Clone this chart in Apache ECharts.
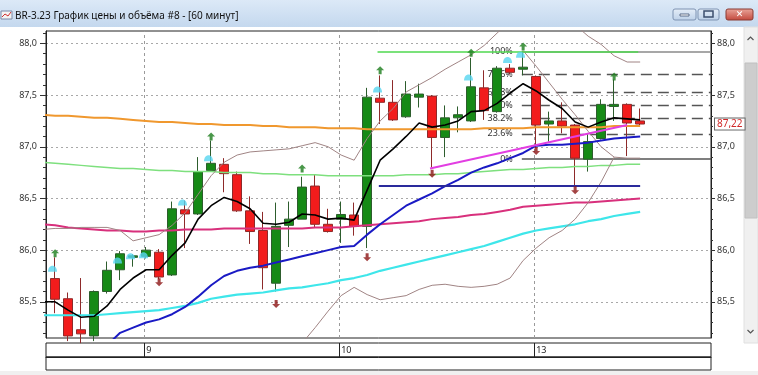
<!DOCTYPE html>
<html><head><meta charset="utf-8">
<script src="https://cdn.jsdelivr.net/npm/echarts@6/dist/echarts.min.js"></script>
<style>html,body{margin:0;padding:0;background:#fff;overflow:hidden}#c{width:758px;height:375px}</style>
</head><body><div id="c"></div>
<script>
// ---------- DATA ----------
const bars = [0,1,2,3,4,5,6,7,8,9,10,11,12,13,14,15,16,17,18,19,20,21,22,23,24,25,26,27,28,29,30,31,32,33,34,35,36,37,38,39,40,41,42,43,44,45];
const opens  = [85.725,85.53,85.23,85.17,85.60,85.81,85.93,85.94,85.98,85.76, 86.39,86.35,86.77,86.83,86.73,86.38,86.19,85.68,86.24,86.30, 86.62,86.25,86.30,86.34,86.23,87.47,87.43,87.29,87.48,87.49, 87.09,87.28,87.25,87.57,87.34,87.76,87.75,87.68,87.22,87.25, 87.21,86.88,87.08,87.39,87.41,87.25];
const closes = [85.525,85.17,85.19,85.60,85.805,85.965,85.945,86.00,85.74,86.40, 86.35,86.76,86.84,86.74,86.38,86.18,85.83,86.23,86.30,86.61, 86.25,86.18,86.345,86.23,87.48,87.43,87.26,87.51,87.51,87.09, 87.28,87.31,87.58,87.35,87.76,87.72,87.77,87.21,87.25,87.20, 86.89,87.05,87.41,87.41,87.23,87.22];
const lows   = [85.39,85.12,85.10,85.12,85.58,85.71,85.84,85.92,85.72,85.75, 86.02,86.34,86.76,86.56,86.37,86.06,85.62,85.60,86.03,86.30, 86.22,86.17,86.07,86.14,86.02,87.22,87.25,87.28,87.38,86.80, 86.90,87.14,87.24,87.26,87.33,87.70,87.69,86.99,87.05,87.13, 86.62,86.76,87.07,87.25,86.91,87.21];
const highs  = [85.93,85.59,85.73,85.61,85.89,85.99,85.96,86.03,86.01,86.47, 86.48,86.90,87.06,86.89,86.76,86.52,86.37,86.46,86.47,86.71, 86.73,86.40,86.47,86.46,87.57,87.69,87.645,87.635,87.61,87.50, 87.40,87.39,87.86,87.74,87.78,87.80,87.92,87.69,87.34,87.43, 87.22,87.13,87.46,87.65,87.42,87.37];

// indicator lines, points at bar -1 .. 45
const lineIdx = [-1,0,1,2,3,4,5,6,7,8,9,10,11,12,13,14,15,16,17,18,19,20,21,22,23,24,25,26,27,28,29,30,31,32,33,34,35,36,37,38,39,40,41,42,43,44,45];
const orangeMA = [87.31,87.30,87.30,87.29,87.28,87.28,87.27,87.26,87.25,87.24, 87.24,87.23,87.22,87.22,87.21,87.21,87.21,87.20,87.20,87.19, 87.19,87.19,87.18,87.18,87.18,87.17,87.17,87.17,87.17,87.17, 87.17,87.17,87.17,87.17,87.18,87.18,87.18,87.18,87.19,87.19, 87.19,87.19,87.19,87.19,87.20,87.20,87.20];
const greenMA  = [86.85,86.84,86.83,86.82,86.81,86.80,86.79,86.79,86.78,86.77, 86.77,86.76,86.76,86.76,86.75,86.75,86.75,86.74,86.74,86.73, 86.73,86.73,86.72,86.72,86.72,86.72,86.72,86.72,86.73,86.73, 86.73,86.74,86.74,86.75,86.76,86.77,86.78,86.78,86.79,86.80, 86.80,86.81,86.81,86.82,86.82,86.83,86.83];
const crimsonMA= [86.25,86.24,86.22,86.21,86.20,86.19,86.19,86.18,86.18,86.19, 86.19,86.20,86.20,86.20,86.21,86.21,86.21,86.21,86.21,86.21, 86.21,86.22,86.22,86.22,86.23,86.24,86.25,86.26,86.27,86.28, 86.30,86.31,86.32,86.34,86.35,86.37,86.39,86.42,86.43,86.44, 86.45,86.46,86.46,86.47,86.48,86.49,86.50];
const cyanMA   = [85.37,85.37,85.37,85.37,85.37,85.38,85.39,85.40,85.41,85.42, 85.44,85.46,85.49,85.53,85.55,85.57,85.58,85.59,85.61,85.63, 85.64,85.66,85.68,85.71,85.73,85.76,85.80,85.83,85.86,85.89, 85.92,85.95,85.98,86.01,86.04,86.08,86.12,86.16,86.19,86.21, 86.23,86.25,86.28,86.30,86.33,86.35,86.37];
const blueMA   = [null,null,null,null,null,85.08,85.20,85.25,85.30,85.33, 85.38,85.45,85.55,85.66,85.75,85.80,85.83,85.85,85.88,85.91, 85.94,85.97,86.00,86.03,86.04,86.15,86.25,86.34,86.43,86.49, 86.55,86.62,86.68,86.75,86.80,86.84,86.89,86.94,87.01,87.02, 87.02,87.03,87.04,87.06,87.08,87.09,87.10];
const blackMA  = [85.50,85.50,85.42,85.35,85.36,85.46,85.62,85.73,85.81,85.81, 85.95,86.07,86.30,86.43,86.51,86.47,86.40,86.26,86.25,86.27, 86.35,86.34,86.30,86.31,86.29,86.58,86.87,86.98,87.10,87.23, 87.19,87.21,87.25,87.34,87.35,87.42,87.52,87.61,87.54,87.45, 87.37,87.24,87.19,87.24,87.28,87.27,87.26];
const upperBand= [86.20,86.21,86.21,86.22,86.22,86.22,86.19,86.09,86.12,86.15, 86.24,86.36,86.54,86.72,86.85,86.92,86.95,86.96,86.97,86.98, 87.01,87.04,87.00,86.92,86.87,87.08,87.25,87.37,87.53,87.60, 87.67,87.75,87.82,87.89,87.98,88.10,88.22,88.28,88.30,88.28, 88.22,88.18,88.07,87.99,87.88,87.82,87.82];
const lowerBand= [null,null,null,null,null,null,null,null,null,null, null,null,null,null,null,null,null,null,null,84.95, 85.10,85.25,85.41,85.56,85.64,85.57,85.52,85.54,85.56,85.62, 85.66,85.67,85.65,85.64,85.65,85.67,85.73,85.90,86.02,86.12, 86.19,86.30,86.46,86.66,86.90,86.89,86.89];
const extraIdx = [36,37,38,39,40,41,42,43];
const extraLine = [87.93,87.78,87.62,87.46,87.31,87.15,87.00,86.90];

// signals
const upArrowIdx = [0,12,19,25,32,36,43];
const upArrowVal = [85.97,87.10,86.79,87.74,87.91,87.97,87.68];
const downArrowIdx = [8,17,24,29,37,40];
const downArrowVal = [85.69,85.48,85.93,86.74,86.96,86.58];
const cyanIdx = [0,5,6,7,10,12,25,32,35,36];
const cyanVal = [85.82,85.90,85.94,85.95,86.46,86.89,87.555,87.67,87.84,87.89];
const waveIdx = [12.1,17.1,20.2,41.2,43.2];
const waveVal = [87.40,85.34,86.86,86.46,87.78];
const waveText = ['1','2','3','2','3'];

// drawings
const fibHigh = 87.92, fibLow = 86.88, fibStartIdx = 35.9;
const fibLevels = [100, 78.6, 61.8, 50, 38.2, 23.6, 0];
const fibLabels = ['100%','78.6%','61.8%','50%','38.2%','23.6%','0%'];
const greenLevel = {from: 24.8, to: 44.85, value: 87.92};
const blueLevel = {from: 24.9, to: 45.0, value: 86.62};
const trendLine = [[28.84, 86.79],[44.0, 87.21]];

// axes
const dayLabels = ['9','10','13'];
const dayStartBar = [7,22,37];
const yMajorTicks = [85.5,86.0,86.5,87.0,87.5,88.0];
const yMinorTicks = [85.2,85.3,85.4,85.6,85.7,85.8,85.9,86.1,86.2,86.3,86.4,86.6,86.7,86.8,86.9,87.1,87.2,87.3,87.4,87.6,87.7,87.8,87.9,88.1];
const lastPrice = closes[closes.length-1];
const titleText = 'BR-3.23 График цены и объёма #8 - [60 минут]';

// ---------- CHART ----------
const X_MIN = -0.7, X_MAX = 50.45, Y_MIN = 85.15, Y_MAX = 88.12;
const FONT = 'Noto Sans';
const dayBounds = dayStartBar.map(b => b - 0.15);
const fmt1 = v => v.toFixed(1).replace('.', ',');
const pair = (xs, ys) => xs.map((x, k) => [x, ys[k]]);

const candleData = bars.map((b, k) => [b, opens[k], closes[k], lows[k], highs[k]]);

function lineSeries(name, vals, color, width, z, xs) {
  return {type: 'line', name, data: pair(xs || lineIdx, vals), showSymbol: false, symbol: 'none',
    xAxisIndex: 0, yAxisIndex: 0, z: z || 3, connectNulls: false,
    lineStyle: {color, width}, clip: true, silent: true};
}

const fibMarks = fibLevels.map((lv, k) => {
  const p = fibLow + (fibHigh - fibLow) * lv / 100;
  const solid = (lv === 100 || lv === 0);
  return [{coord: [fibStartIdx, p],
    lineStyle: {color: lv === 100 ? '#8a8a8a' : '#555', width: solid ? 1.5 : 1.3, type: solid ? 'solid' : [11, 6]},
    label: {show: true, position: 'start', formatter: fibLabels[k], color: '#333', fontSize: 9, fontFamily: FONT, distance: 9, padding: [0, 0, 12, 0]}},
    {coord: [X_MAX, p]}];
});
const dayMarks = dayBounds.map(d => [{coord: [d, Y_MIN], lineStyle: {color: '#9a9a9a', width: 1, type: [3, 3]}}, {coord: [d, Y_MAX]}]);

const upPath = 'path://M4,0 L8,4 L5.5,4 L5.5,8 L2.5,8 L2.5,4 L0,4 Z';
const downPath = 'path://M2.5,0 L5.5,0 L5.5,4 L8,4 L4,8 L0,4 L2.5,4 Z';
const domePath = 'path://M0,6 C0,-1.5 10,-1.5 10,6 Z';

const yBase = {type: 'value', gridIndex: 0, min: Y_MIN, max: Y_MAX};
const option = {
  animation: false,
  textStyle: {fontFamily: FONT},
  grid: [
    {left: 46, top: 31, width: 665, height: 307, show: true, borderColor: '#222', borderWidth: 1, backgroundColor: '#fff'},
    {left: 46, top: 343, width: 665, height: 14, show: true, borderColor: '#222', borderWidth: 1}
  ],
  xAxis: [
    {type: 'value', gridIndex: 0, min: X_MIN, max: X_MAX, show: false, axisLine: {show: false, onZero: false}, axisTick: {show: false}, splitLine: {show: false}},
    {type: 'value', gridIndex: 1, min: X_MIN, max: X_MAX, position: 'bottom',
      axisLine: {show: true, onZero: false, lineStyle: {color: '#222'}},
      axisTick: {show: true, inside: true, length: 14, customValues: dayBounds, lineStyle: {color: '#222'}},
      axisLabel: {show: true, inside: true, customValues: dayBounds, margin: 2, align: 'left', padding: [0, 0, 0, 2],
        fontSize: 9, color: '#222', formatter: v => dayLabels[dayBounds.findIndex(d => Math.abs(d - v) < 1e-6)]},
      splitLine: {show: false}}
  ],
  yAxis: [
    Object.assign({}, yBase, {position: 'left',
      axisLine: {show: true, onZero: false, lineStyle: {color: '#222'}},
      axisTick: {show: true, length: 6, customValues: yMajorTicks, lineStyle: {color: '#333'}},
      axisLabel: {customValues: yMajorTicks, formatter: fmt1, margin: 9, fontSize: 9, color: '#333'},
      splitLine: {show: true, lineStyle: {color: '#a8a8a8', type: [2, 3]}}}),
    Object.assign({}, yBase, {position: 'left',
      axisLine: {show: false, onZero: false}, axisLabel: {show: false}, splitLine: {show: false},
      axisTick: {show: true, length: 3, customValues: yMinorTicks, lineStyle: {color: '#333'}}}),
    Object.assign({}, yBase, {position: 'right',
      axisLine: {show: true, onZero: false, lineStyle: {color: '#222'}},
      axisTick: {show: true, length: 4, customValues: yMajorTicks, lineStyle: {color: '#333'}},
      axisLabel: {customValues: yMajorTicks, formatter: fmt1, margin: 6, fontSize: 9, color: '#333'},
      splitLine: {show: false}}),
    Object.assign({}, yBase, {position: 'right',
      axisLine: {show: false, onZero: false}, axisLabel: {show: false}, splitLine: {show: false},
      axisTick: {show: true, length: 2, customValues: yMinorTicks, lineStyle: {color: '#333'}}}),
    Object.assign({}, yBase, {position: 'right',
      axisLine: {show: false, onZero: false}, axisTick: {show: false}, splitLine: {show: false},
      axisLabel: {customValues: [lastPrice], formatter: v => v.toFixed(2).replace('.', ','), margin: 4,
        fontSize: 10, color: '#d02828', backgroundColor: '#fff', borderColor: '#666', borderWidth: 1, padding: [1, 2, 0, 2]}}),
    {type: 'value', gridIndex: 1, show: false, min: 0, max: 1, axisLine: {onZero: false}}
  ],
  series: [
    {type: 'line', name: 'background-drawings', data: [], xAxisIndex: 0, yAxisIndex: 0, z: 1, silent: true,
      markLine: {silent: true, symbol: 'none', z: 1, animation: false, data: [...dayMarks, ...fibMarks]}},
    {type: 'candlestick', name: 'BR-3.23', data: candleData, xAxisIndex: 0, yAxisIndex: 0, z: 2, barWidth: 9, clip: true,
      itemStyle: {color: '#168a16', color0: '#f21c1c', borderColor: '#2d5d2d', borderColor0: '#8e2a2a', borderWidth: 1}},
    lineSeries('orange', orangeMA, '#f0982e', 2, 3),
    lineSeries('green', greenMA, '#7ee07e', 1.5, 3),
    lineSeries('crimson', crimsonMA, '#d8307c', 2, 3),
    lineSeries('cyan', cyanMA, '#3ee6ea', 2.2, 3),
    lineSeries('upper', upperBand, '#a08484', 1, 3),
    lineSeries('lower', lowerBand, '#a08484', 1, 3),
    lineSeries('extra', extraLine, '#a08484', 1, 3, extraIdx),
    lineSeries('blue', blueMA, '#1a1ac4', 2, 3),
    lineSeries('black', blackMA, '#000', 1.6, 4),
    {type: 'line', name: 'levels', data: [], xAxisIndex: 0, yAxisIndex: 0, z: 4, silent: true,
      markLine: {silent: true, symbol: 'none', z: 4, animation: false, label: {show: false},
        data: [
          [{coord: [greenLevel.from, greenLevel.value], lineStyle: {color: '#4fd84f', width: 1.6, type: 'solid'}}, {coord: [greenLevel.to, greenLevel.value]}],
          [{coord: [blueLevel.from, blueLevel.value], lineStyle: {color: '#2a2a9c', width: 2, type: 'solid'}}, {coord: [blueLevel.to, blueLevel.value]}],
          [{coord: trendLine[0], lineStyle: {color: '#e23ee2', width: 2, type: 'solid'}}, {coord: trendLine[1]}]
        ]}},
    {type: 'scatter', name: 'up', data: pair(upArrowIdx, upArrowVal), symbol: upPath, symbolSize: [8, 8], z: 6,
      itemStyle: {color: '#1b7d1b'}, silent: true},
    {type: 'scatter', name: 'down', data: pair(downArrowIdx, downArrowVal), symbol: downPath, symbolSize: [8, 8], z: 6,
      itemStyle: {color: '#8c1414'}, silent: true},
    {type: 'scatter', name: 'cyan', data: pair(cyanIdx.map(i => i - 0.2), cyanVal), symbol: domePath, symbolSize: [9, 6], z: 6,
      itemStyle: {color: '#58d6f0'}, silent: true},
    {type: 'scatter', name: 'waves', data: waveIdx.map((x, k) => ({value: [x, waveVal[k]], name: waveText[k]})),
      symbolSize: 1, itemStyle: {opacity: 0}, z: 7, silent: true,
      label: {show: true, position: 'inside', formatter: p => p.name, color: '#8d2fdc', fontSize: 14, fontWeight: 'bold', fontFamily: FONT}}
  ],
  graphic: [
    {type: 'rect', shape: {x: 0, y: 0, width: 758, height: 27}, z: -10,
      style: {fill: new echarts.graphic.LinearGradient(0, 0, 0, 1, [{offset: 0, color: '#dce9f7'}, {offset: 1, color: '#c4d8ee'}])}},
    {type: 'rect', shape: {x: 1, y: 11, width: 11, height: 8}, style: {fill: '#f4f4f4', stroke: '#7a8aa8', lineWidth: 1}},
    {type: 'polyline', shape: {points: [[2, 17], [5, 14], [8, 16], [11, 12]]}, style: {stroke: '#d03030', lineWidth: 1, fill: null}},
    {type: 'text', style: {text: titleText, x: 15, y: 16, fill: '#111', fontSize: 10, fontFamily: FONT, verticalAlign: 'middle'}},
    {type: 'rect', shape: {x: 673, y: 9, width: 23, height: 11, r: 2},
      style: {fill: new echarts.graphic.LinearGradient(0, 0, 0, 1, [{offset: 0, color: '#e6eef8'}, {offset: 1, color: '#bcd0e8'}]), stroke: '#7e93b2'}},
    {type: 'rect', shape: {x: 680, y: 14, width: 9, height: 2}, style: {fill: '#fff', stroke: '#3d4f6e', lineWidth: 0.8}},
    {type: 'rect', shape: {x: 698, y: 9, width: 21, height: 11, r: 2},
      style: {fill: new echarts.graphic.LinearGradient(0, 0, 0, 1, [{offset: 0, color: '#e6eef8'}, {offset: 1, color: '#bcd0e8'}]), stroke: '#7e93b2'}},
    {type: 'rect', shape: {x: 704, y: 11, width: 9, height: 6}, style: {fill: 'none', stroke: '#3d4f6e', lineWidth: 1.5}},
    {type: 'rect', shape: {x: 726, y: 9, width: 27, height: 11, r: 2},
      style: {fill: new echarts.graphic.LinearGradient(0, 0, 0, 1, [{offset: 0, color: '#eaa79c'}, {offset: 1, color: '#c2463a'}]), stroke: '#8a3b33'}},
    {type: 'text', style: {text: '✕', x: 739.5, y: 14.5, fill: '#fff', fontSize: 9, fontWeight: 'bold', align: 'center', verticalAlign: 'middle', fontFamily: 'DejaVu Sans'}},
    // vertical scrollbar
    {type: 'rect', shape: {x: 744, y: 27, width: 14, height: 316}, style: {fill: '#f0f0f0', stroke: '#e0e0e0'}},
    {type: 'rect', shape: {x: 745, y: 63, width: 12, height: 155}, style: {fill: '#cdcdcd', stroke: '#c0c0c0'}},
    {type: 'polyline', shape: {points: [[747.5, 40], [750.5, 37], [753.5, 40]]}, style: {stroke: '#555', lineWidth: 1.2, fill: null}},
    {type: 'polyline', shape: {points: [[747.5, 330], [750.5, 333], [753.5, 330]]}, style: {stroke: '#555', lineWidth: 1.2, fill: null}},
    // lower empty strip
    {type: 'rect', shape: {x: 46, y: 357, width: 665, height: 13}, style: {fill: '#fff', stroke: '#222', lineWidth: 1}},
    {type: 'rect', shape: {x: 0, y: 371, width: 758, height: 4}, style: {fill: '#f0f0f0'}}
  ]
};

const chart = echarts.init(document.getElementById('c'), null, {renderer: 'canvas'});
chart.setOption(option);
</script>
</body></html>
